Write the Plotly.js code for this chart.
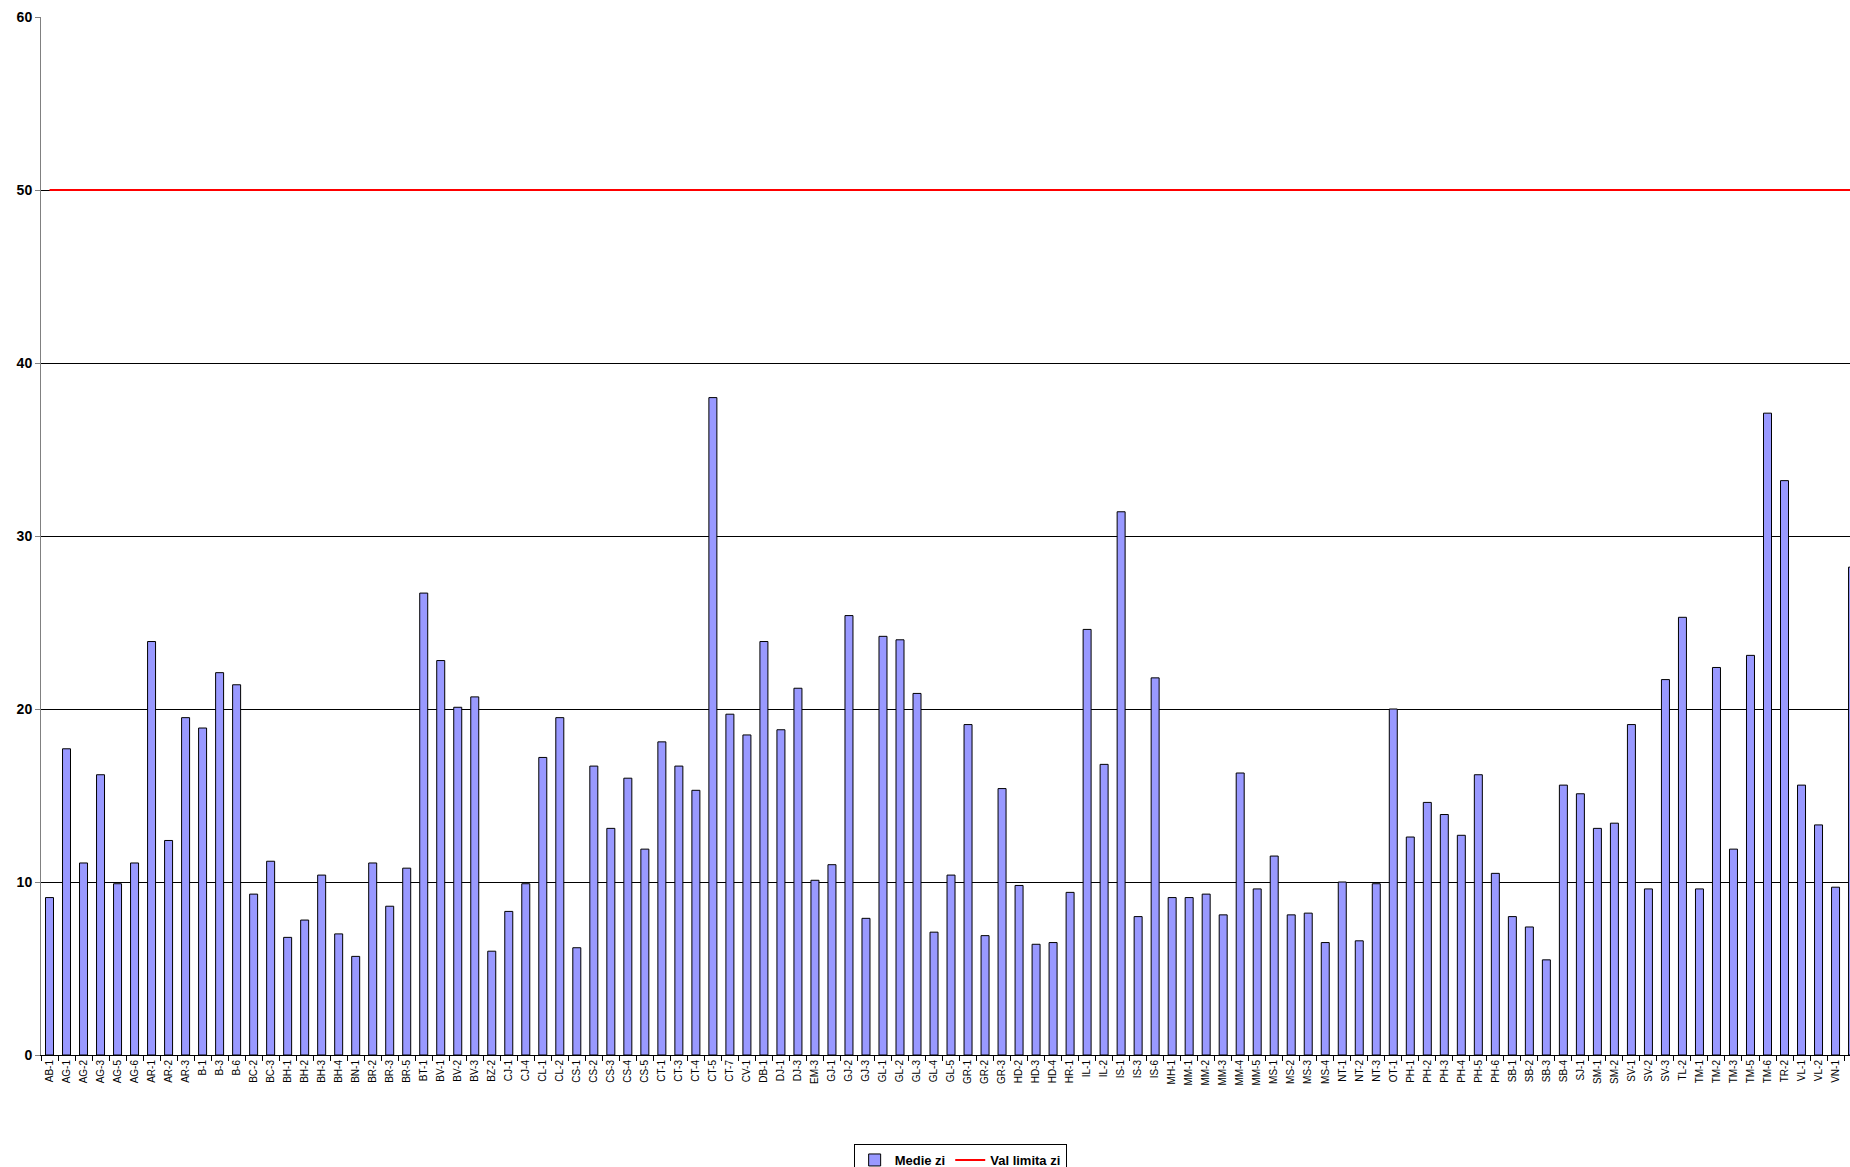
<!DOCTYPE html>
<html>
<head>
<meta charset="utf-8">
<script src="https://cdn.plot.ly/plotly-3.0.1.min.js"></script>
<style>html,body{margin:0;padding:0;background:#fff;}#chart{width:1850px;height:1167px;}</style>
</head>
<body>
<div id="chart"></div>
<script>
const stations = ["AB-1","AG-1","AG-2","AG-3","AG-5","AG-6","AR-1","AR-2","AR-3","B-1","B-3","B-6","BC-2","BC-3","BH-1","BH-2","BH-3","BH-4","BN-1","BR-2","BR-3","BR-5","BT-1","BV-1","BV-2","BV-3","BZ-2","CJ-1","CJ-4","CL-1","CL-2","CS-1","CS-2","CS-3","CS-4","CS-5","CT-1","CT-3","CT-4","CT-5","CT-7","CV-1","DB-1","DJ-1","DJ-3","EM-3","GJ-1","GJ-2","GJ-3","GL-1","GL-2","GL-3","GL-4","GL-5","GR-1","GR-2","GR-3","HD-2","HD-3","HD-4","HR-1","IL-1","IL-2","IS-1","IS-3","IS-6","MH-1","MM-1","MM-2","MM-3","MM-4","MM-5","MS-1","MS-2","MS-3","MS-4","NT-1","NT-2","NT-3","OT-1","PH-1","PH-2","PH-3","PH-4","PH-5","PH-6","SB-1","SB-2","SB-3","SB-4","SJ-1","SM-1","SM-2","SV-1","SV-2","SV-3","TL-2","TM-1","TM-2","TM-3","TM-5","TM-6","TR-2","VL-1","VL-2","VN-1","VN-2"];
const medieZi = [9.1,17.7,11.1,16.2,9.9,11.1,23.9,12.4,19.5,18.9,22.1,21.4,9.3,11.2,6.8,7.8,10.4,7.0,5.7,11.1,8.6,10.8,26.7,22.8,20.1,20.7,6.0,8.3,9.9,17.2,19.5,6.2,16.7,13.1,16.0,11.9,18.1,16.7,15.3,38.0,19.7,18.5,23.9,18.8,21.2,10.1,11.0,25.4,7.9,24.2,24.0,20.9,7.1,10.4,19.1,6.9,15.4,9.8,6.4,6.5,9.4,24.6,16.8,31.4,8.0,21.8,9.1,9.1,9.3,8.1,16.3,9.6,11.5,8.1,8.2,6.5,10.0,6.6,9.9,20.0,12.6,14.6,13.9,12.7,16.2,10.5,8.0,7.4,5.5,15.6,15.1,13.1,13.4,19.1,9.6,21.7,25.3,9.6,22.4,11.9,23.1,37.1,33.2,15.6,13.3,9.7,28.2];
const valLimitaZi = 50;
const yTicks = [0,10,20,30,40,50,60];

const limitSeries = stations.map(() => valLimitaZi);

const traces = [
  {
    type: 'bar',
    name: 'Medie zi',
    x: stations,
    y: medieZi,
    width: 0.47,
    marker: {color: '#9999FF', line: {color: '#000000', width: 1}},
    hoverinfo: 'x+y'
  },
  {
    type: 'scatter',
    mode: 'lines',
    name: 'Val limita zi',
    x: stations,
    y: limitSeries,
    line: {color: '#FF0000', width: 2},
    hoverinfo: 'y'
  }
];

const layout = {
  width: 1850,
  height: 1167,
  margin: {l: 41, r: 0, t: 17, b: 112},
  paper_bgcolor: '#ffffff',
  plot_bgcolor: '#ffffff',
  showlegend: true,
  bargap: 0,
  xaxis: {
    type: 'category',
    range: [-0.5, 105.85],
    tickangle: -90,
    tickfont: {family: 'Liberation Sans, Arial, sans-serif', size: 10, color: '#000'},
    showgrid: false,
    showline: true,
    linecolor: '#000',
    linewidth: 1,
    ticks: 'outside',
    tickson: 'boundaries',
    ticklen: 5,
    tickcolor: '#000',
    zeroline: false,
    automargin: false
  },
  yaxis: {
    range: [0, 60],
    tickvals: yTicks,
    ticktext: yTicks.map(String),
    tickfont: {family: 'Liberation Sans, Arial, sans-serif', size: 14, color: '#000', weight: 'bold'},
    showgrid: true,
    gridcolor: '#000',
    gridwidth: 1,
    showline: true,
    linecolor: '#808080',
    linewidth: 1,
    ticks: 'outside',
    ticklen: 5,
    tickcolor: '#808080',
    zeroline: false,
    automargin: false
  },
  legend: {
    orientation: 'h',
    xref: 'container',
    yref: 'container',
    x: 0.519,
    xanchor: 'center',
    y: 0.0197,
    yanchor: 'top',
    bordercolor: '#000',
    borderwidth: 1,
    bgcolor: '#fff',
    font: {family: 'Liberation Sans, Arial, sans-serif', size: 13, color: '#000', weight: 'bold'},
    itemwidth: 30,
    tracegroupgap: 0
  }
};

Plotly.newPlot('chart', traces, layout, {displayModeBar: false, staticPlot: true});
</script>
</body>
</html>
